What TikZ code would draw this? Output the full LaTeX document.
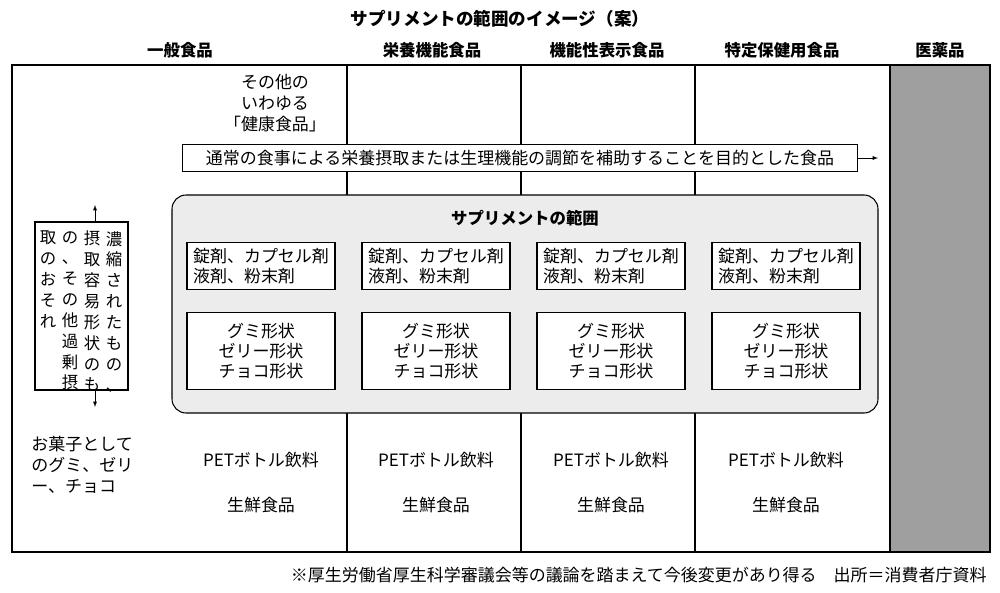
\documentclass[tikz,border=0pt]{standalone}
\usepackage{fontspec}
\setmainfont{Noto Sans CJK JP}
\usetikzlibrary{positioning}
\begin{document}
\begin{tikzpicture}[x=0.03cm, y=-0.03cm,
    frame/.style={draw, line width=0.9pt},
    hdr/.style={font=\fontsize{14}{16}\selectfont\bfseries},
    txt/.style={font=\fontsize{14.5}{18}\selectfont, align=center, inner sep=1pt},
    itembox/.style={draw, line width=0.9pt, fill=white, minimum width=148*0.03cm, font=\fontsize{14.5}{17}\selectfont, align=left, inner sep=2pt},
    tate/.style={font=\fontsize{14}{17.8}\selectfont, align=center, inner sep=0pt, anchor=north},
    connection/.style={->, >=latex, line width=0.6pt}
  ]
  \useasboundingbox (0,0) rectangle (1000,593);

  % Title and headers
  \node[hdr, font=\fontsize{15}{17}\selectfont\bfseries] (title) at (500,19) {サプリメントの範囲のイメージ（案）};
  \node[hdr] (h1) at (180,50) {一般食品};
  \node[hdr] (h2) at (432,50) {栄養機能食品};
  \node[hdr] (h3) at (607,50) {機能性表示食品};
  \node[hdr] (h4) at (782,50) {特定保健用食品};
  \node[hdr] (h5) at (940,50) {医薬品};

  % Frame
  \fill[gray!75] (890,65) rectangle (990,552);
  \draw[frame] (12,65) rectangle (990,552);
  \foreach \x in {347,521,695,890} {
    \draw[frame] (\x,65) -- (\x,552);
  }

  % Health foods
  \node[txt] (other) at (275,103) {その他の\\いわゆる\\「健康食品」};
  \node[draw, line width=0.9pt, fill=white, minimum width=675*0.03cm, minimum height=27*0.03cm, txt, inner sep=0pt] (purpose) at (520,158) {通常の食事による栄養摂取または生理機能の調節を補助することを目的とした食品};
  \coordinate (purposeEnd) at (878,158);
  \draw[connection] (purpose.east) -- (purposeEnd);

  % Supplement range
  \draw[line width=0.9pt, fill=gray!15, rounded corners=12pt] (172,195) rectangle (878,413);
  \node[hdr] (supp) at (525,218) {サプリメントの範囲};
  \foreach \c/\x in {1/261,2/436,3/611,4/786} {
    \node[itembox, minimum height=47*0.03cm] (tab\c) at (\x,266) {錠剤、カプセル剤\\液剤、粉末剤};
    \node[itembox, minimum height=77*0.03cm, align=center] (gum\c) at (\x,351) {グミ形状\\ゼリー形状\\チョコ形状};
  }

  % Vertical text box
  \draw[frame, fill=white] (35,222) rectangle (128,390);
  \node[tate] (v1) at (114,231) {濃\\縮\\さ\\れ\\た\\も\\の\\、};
  \node[tate] (v2) at (92,231) {摂\\取\\容\\易\\形\\状\\の\\も};
  \node[tate] (v3) at (70,231) {の\\、\\そ\\の\\他\\過\\剰\\摂};
  \node[tate] (v4) at (48,231) {取\\の\\お\\そ\\れ};
  \coordinate (vtop) at (95,222);
  \coordinate (vtopEnd) at (95,205);
  \coordinate (vbot) at (95,390);
  \coordinate (vbotEnd) at (95,407);
  \draw[connection] (vtop) -- (vtopEnd);
  \draw[connection] (vbot) -- (vbotEnd);

  % Lower texts
  \node[txt, align=left, anchor=west] (snack) at (30,465) {お菓子として\\のグミ、ゼリ\\ー、チョコ};
  \foreach \c/\x in {1/261,2/436,3/611,4/786} {
    \node[txt] (pet\c) at (\x,460) {PETボトル飲料};
    \node[txt] (fresh\c) at (\x,505) {生鮮食品};
  }

  % Footer
  \node[txt, anchor=east] (note) at (988,575) {※厚生労働省厚生科学審議会等の議論を踏まえて今後変更があり得る\quad 出所＝消費者庁資料};
\end{tikzpicture}
\end{document}
